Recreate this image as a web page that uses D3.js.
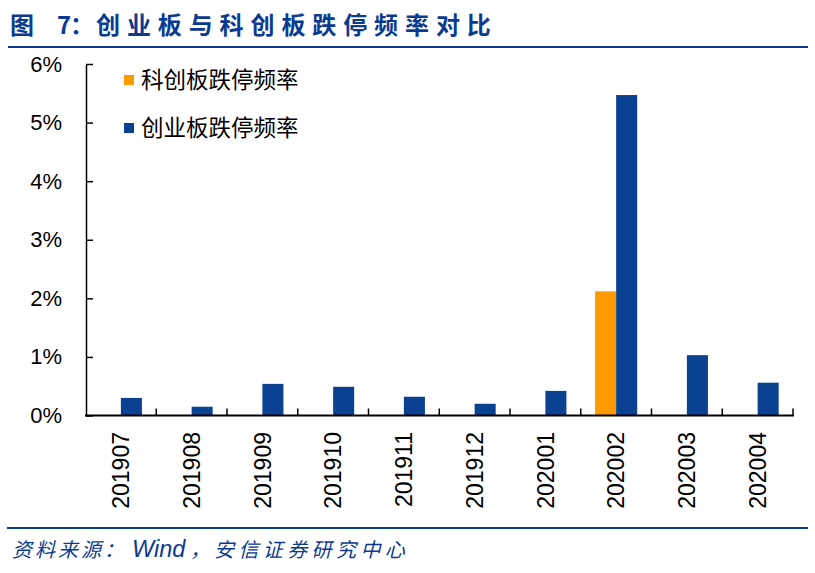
<!DOCTYPE html>
<html>
<head>
<meta charset="utf-8">
<script src="https://cdn.jsdelivr.net/npm/d3@7"></script>
<style>
  body { margin: 0; background: #fff; }
  text { font-family: "Liberation Sans", Arial, "Noto Sans CJK SC", sans-serif; }
</style>
</head>
<body>
<script>
var anchoSvg = 815,
    altoSvg = 573;

// datos
var meses = ['201907','201908','201909','201910','201911','201912','202001','202002','202003','202004'];
var series = ['科创板跌停频率','创业板跌停频率'];
var kechuang = [0, 0, 0, 0, 0, 0, 0, 0.0212, 0, 0];
var chuangye = [0.0030, 0.0015, 0.0054, 0.0049, 0.0032, 0.0020, 0.0042, 0.0547, 0.0103, 0.0056];
var ticksY = [0, 0.01, 0.02, 0.03, 0.04, 0.05, 0.06];
var colores = ['#ff9900', '#0b4191'];

var azul = '#0b3b8f';

var datos = meses.map((m, i) => ({mes: m, valores: [kechuang[i], chuangye[i]]}));

var svg = d3.select('body')
    .append('svg')
    .attr('width', anchoSvg)
    .attr('height', altoSvg);

// titulo
var titulo = svg.append('text')
    .attr('y', 34)
    .attr('fill', azul)
    .style('font-family', '"Noto Sans CJK SC", sans-serif')
    .style('font-weight', 'bold')
    .style('font-size', '24px');
titulo.append('tspan').attr('x', 10).text('图');
titulo.append('tspan').attr('x', 57).text('7');
titulo.append('tspan').attr('x', 70).text('：');
titulo.append('tspan').attr('x', 96)
    .style('letter-spacing', '6.9px')
    .text('创业板与科创板跌停频率对比');

svg.append('line')
    .attr('x1', 8).attr('x2', 808)
    .attr('y1', 47).attr('y2', 47)
    .attr('stroke', azul).attr('stroke-width', 2);

svg.append('line')
    .attr('x1', 7).attr('x2', 808)
    .attr('y1', 528).attr('y2', 528)
    .attr('stroke', azul).attr('stroke-width', 2);

// fuente
var fuente = svg.append('text')
    .attr('y', 557)
    .attr('fill', azul)
    .style('font-family', '"Noto Sans CJK SC", sans-serif')
    .style('font-style', 'italic')
    .style('font-size', '20px');
fuente.append('tspan').attr('x', 12).style('letter-spacing', '3px').text('资料来源：');
fuente.append('tspan').attr('x', 132)
    .style('font-family', '"Liberation Sans", Arial, sans-serif')
    .style('font-size', '23.5px')
    .text('Wind');
fuente.append('tspan').attr('x', 190).text('，');
fuente.append('tspan').attr('x', 214).style('letter-spacing', '4.4px').text('安信证券研究中心');

//Escalas
var escalaX = d3.scaleBand()
    .domain(meses)
    .range([85.5, 793]);

var escalaSerie = d3.scaleBand()
    .domain([0, 1])
    .range([0, escalaX.bandwidth()])
    .paddingOuter(0.68);

var escalaY = d3.scaleLinear()
    .domain([0, 0.06])
    .range([415.5, 64]);

// barras
svg.append('g')
    .selectAll('g')
    .data(datos)
    .enter()
    .append('g')
    .attr('transform', d => 'translate(' + escalaX(d.mes) + ',0)')
    .selectAll('rect')
    .data(d => d.valores)
    .enter()
    .append('rect')
    .attr('x', (d, i) => escalaSerie(i))
    .attr('width', escalaSerie.bandwidth())
    .attr('y', d => escalaY(d))
    .attr('height', d => escalaY(0) - escalaY(d))
    .attr('fill', (d, i) => colores[i]);

// eje Y
var ejeY = d3.axisLeft(escalaY)
    .tickValues(ticksY)
    .tickFormat(d3.format('.0%'))
    .tickSizeInner(-7)
    .tickSizeOuter(0)
    .tickPadding(24);

var gY = svg.append('g')
    .attr('transform', 'translate(86,0)')
    .call(ejeY);
gY.select('.domain').attr('stroke', '#000').attr('stroke-width', 1.5);
gY.selectAll('.tick line').attr('stroke', '#000').attr('stroke-width', 1.5);
gY.selectAll('.tick text')
    .style('font-size', '22px')
    .attr('fill', '#000');

// eje X
var gX = svg.append('g');
gX.append('line')
    .attr('x1', 85).attr('x2', escalaX.range()[1] + 1)
    .attr('y1', escalaY(0)).attr('y2', escalaY(0))
    .attr('stroke', '#000').attr('stroke-width', 2.2);

var bordes = meses.slice(1).map(m => escalaX(m)).concat([escalaX.range()[1]]);
gX.selectAll('.marca')
    .data(bordes)
    .enter()
    .append('line')
    .attr('class', 'marca')
    .attr('x1', d => d).attr('x2', d => d)
    .attr('y1', escalaY(0)).attr('y2', escalaY(0) - 7)
    .attr('stroke', '#000').attr('stroke-width', 1.5);

gX.selectAll('.etiqueta')
    .data(meses)
    .enter()
    .append('text')
    .attr('class', 'etiqueta')
    .text(d => d)
    .attr('text-anchor', 'end')
    .attr('dy', '0.36em')
    .attr('transform', d => 'translate(' + (escalaX(d) + escalaX.bandwidth() / 2) + ',432) rotate(-90)')
    .style('font-size', '23px')
    .attr('fill', '#000');

// leyenda
var leyenda = svg.append('g')
    .selectAll('g')
    .data(series)
    .enter()
    .append('g')
    .attr('transform', (d, i) => 'translate(124,' + (80 + i * 48) + ')');

leyenda.append('rect')
    .attr('x', 0).attr('y', -5)
    .attr('width', 10).attr('height', 10)
    .attr('fill', (d, i) => colores[i]);

leyenda.append('text')
    .text(d => d)
    .attr('x', 17)
    .attr('dy', '0.36em')
    .style('font-family', '"Noto Sans CJK SC", sans-serif')
    .style('font-size', '22.5px')
    .attr('fill', '#000');
</script>
</body>
</html>
